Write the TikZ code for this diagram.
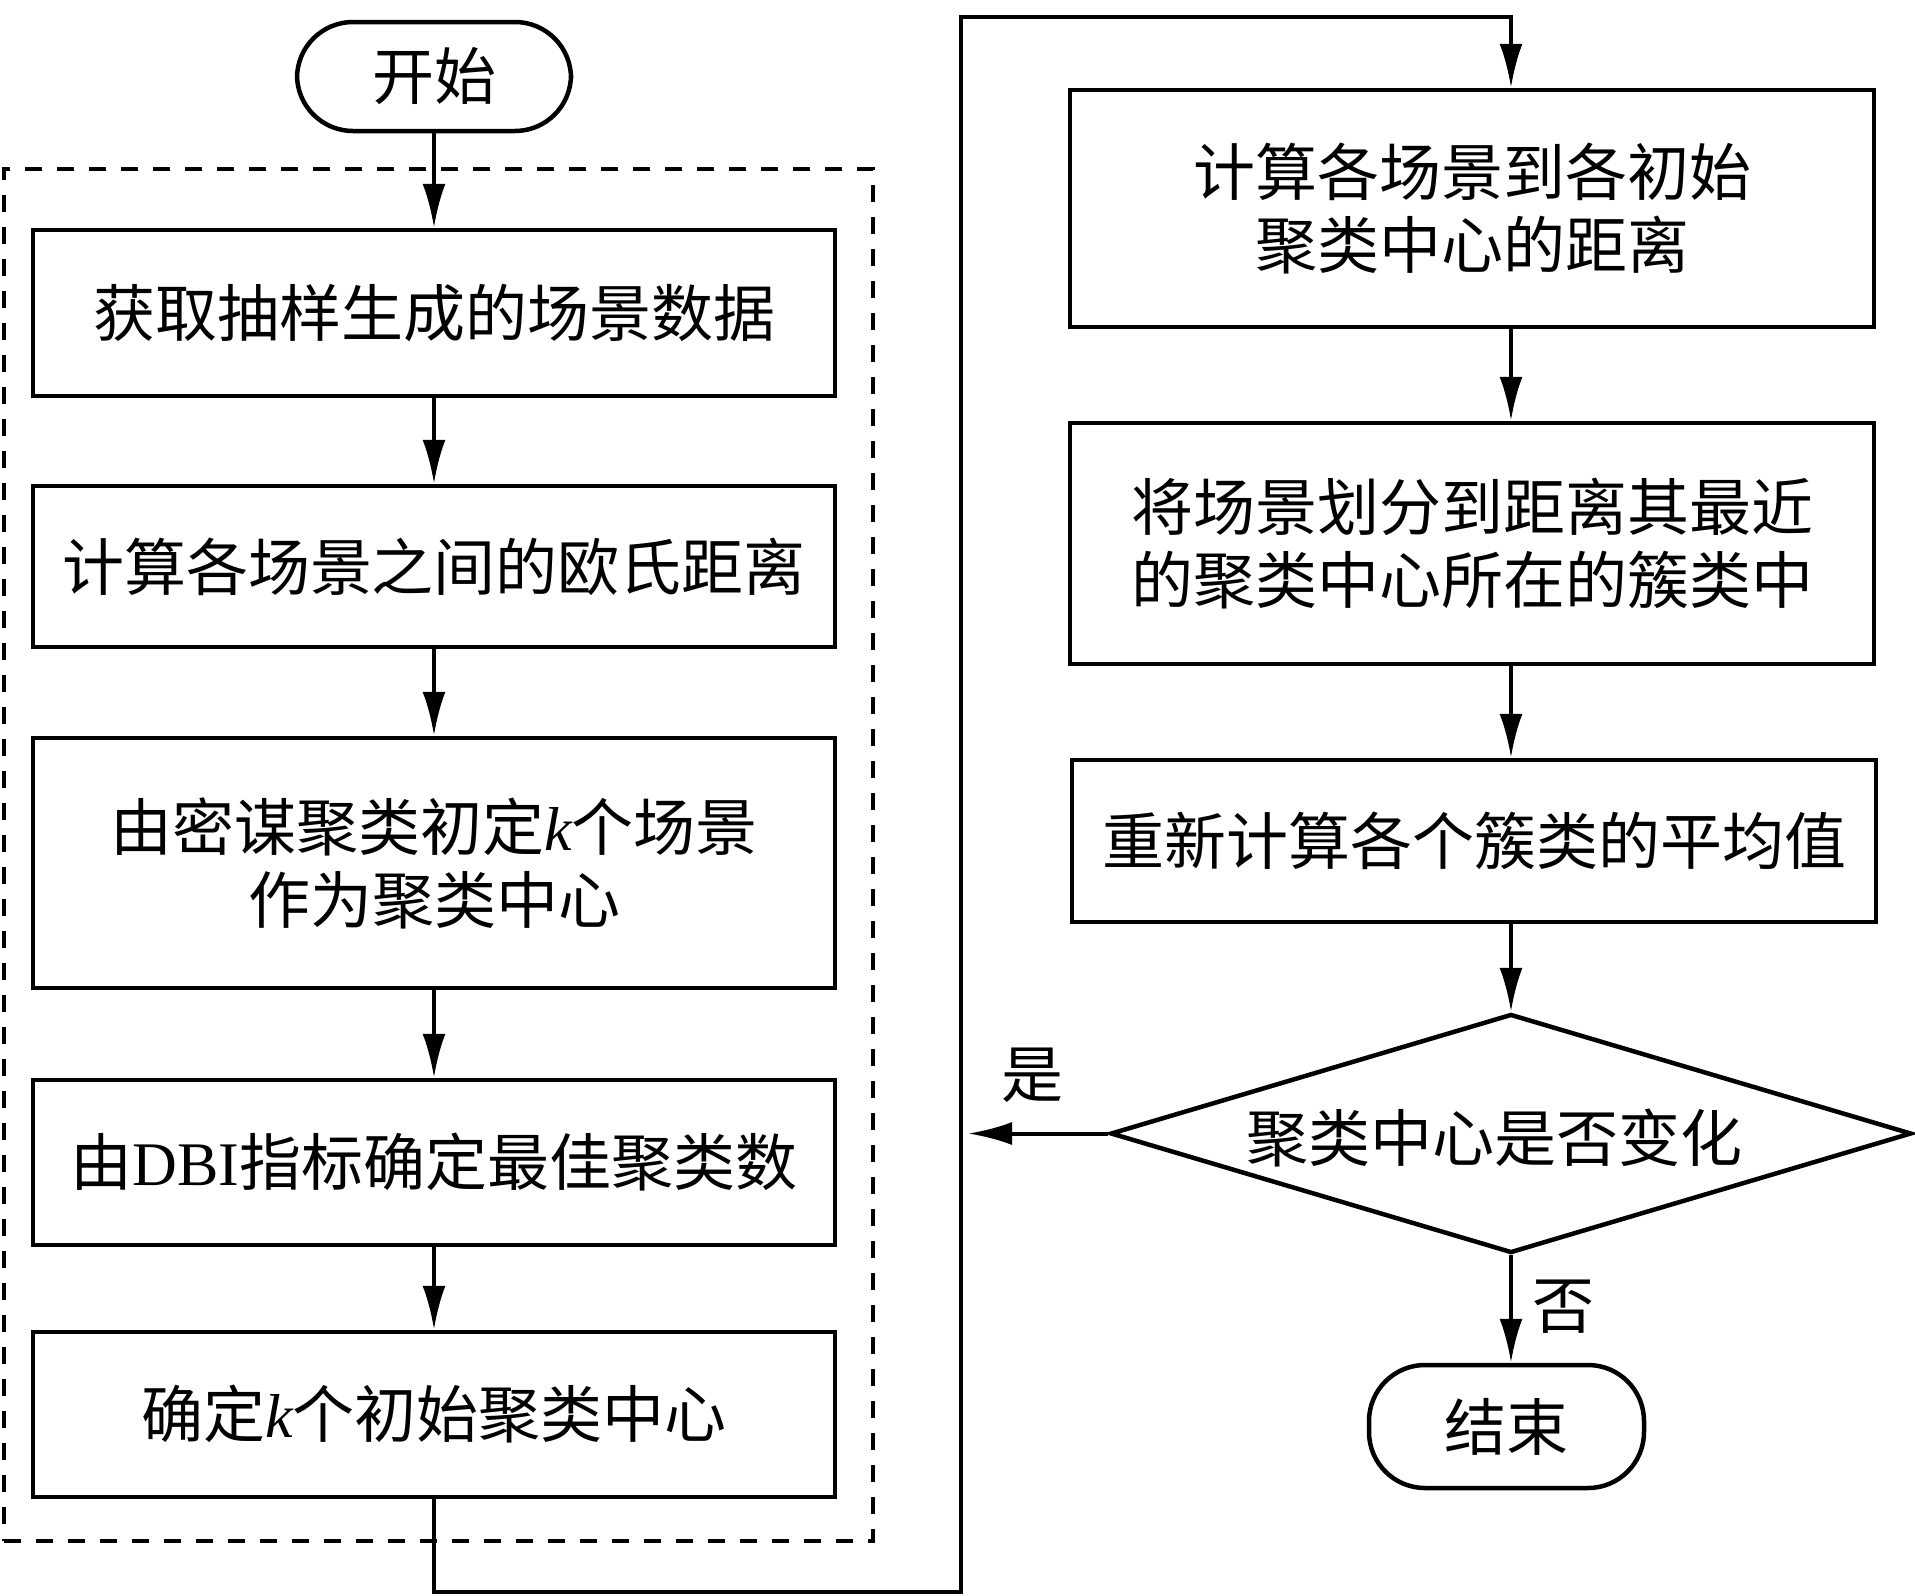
\documentclass[tikz,border=0pt]{standalone}
\usepackage{fontspec}
\setmainfont{Noto Sans CJK SC}
\newfontfamily\lat{Liberation Serif}
\newcommand{\kk}{{\lat\itshape k}}
\usetikzlibrary{arrows.meta,shapes.geometric}
\begin{document}
\begin{tikzpicture}[x=1pt,y=-1pt,
  box/.style={draw,line width=4.5pt,inner sep=0pt,align=center},
  term/.style={draw,line width=4.5pt,rounded corners=56pt,inner sep=0pt},
  conn/.style={line width=4pt},
  arr/.style={conn,-{Latex[length=44pt,width=23pt]}},
  lab/.style={inner sep=0pt},
  font=\fontsize{62}{73}\selectfont]
\useasboundingbox (0,0) rectangle (1915,1596);
% group frame
\node[draw,line width=4pt,dash pattern=on 17pt off 15pt,minimum width=869pt,minimum height=1372pt,inner sep=0pt] (grp) at (438.5,855) {};
% left column
\node[term,minimum width=274pt,minimum height=109pt] (start) at (434,76.5) {开始};
\node[box,minimum width=802pt,minimum height=166pt] (b1) at (434,313) {获取抽样生成的场景数据};
\node[box,minimum width=802pt,minimum height=161pt] (b2) at (434,566.5) {计算各场景之间的欧氏距离};
\node[box,minimum width=802pt,minimum height=250pt] (b3) at (434,863) {由密谋聚类初定\kk 个场景\\作为聚类中心};
\node[box,minimum width=802pt,minimum height=165pt] (b4) at (434,1162.5) {由{\lat DBI}指标确定最佳聚类数};
\node[box,minimum width=802pt,minimum height=165pt] (b5) at (434,1414.5) {确定\kk 个初始聚类中心};
% right column
\node[box,minimum width=804pt,minimum height=237pt] (r1) at (1472,208.5) {计算各场景到各初始\\聚类中心的距离};
\node[box,minimum width=804pt,minimum height=241pt] (r2) at (1472,543.5) {将场景划分到距离其最近\\的聚类中心所在的簇类中};
\node[box,minimum width=804pt,minimum height=162pt] (r3) at (1474,841) {重新计算各个簇类的平均值};
\node[draw,diamond,line width=4.5pt,minimum width=801pt,minimum height=239pt,inner sep=0pt] (d) at (1511,1133.5) {};
\node[lab] (dt) at (1494,1138) {聚类中心是否变化};
\node[term,minimum width=275pt,minimum height=123pt] (end) at (1506.5,1426.5) {结束};
% labels
\node[lab] (yes) at (1032,1075) {是};
\node[lab] (no) at (1563,1307) {否};
% coordinates
\coordinate (c1) at (434,1592);
\coordinate (c2) at (961,1592);
\coordinate (c3) at (961,17);
\coordinate (c4) at (1511,17);
\coordinate (yend) at (968,1133.5);
% connectors
\draw[arr] (start.south) -- (b1.north);
\draw[arr] (b1.south) -- (b2.north);
\draw[arr] (b2.south) -- (b3.north);
\draw[arr] (b3.south) -- (b4.north);
\draw[arr] (b4.south) -- (b5.north);
\draw[arr] (b5.south) -- (c1) -- (c2) -- (c3) -- (c4) -- (r1.north -| c4);
\draw[arr] (r1.south -| c4) -- (r2.north -| c4);
\draw[arr] (r2.south -| c4) -- (r3.north -| c4);
\draw[arr] (r3.south -| c4) -- (d.north);
\draw[arr] (d.south) -- (end.north -| d.south);
\draw[arr] (d.west) -- (yend);
\end{tikzpicture}
\end{document}
